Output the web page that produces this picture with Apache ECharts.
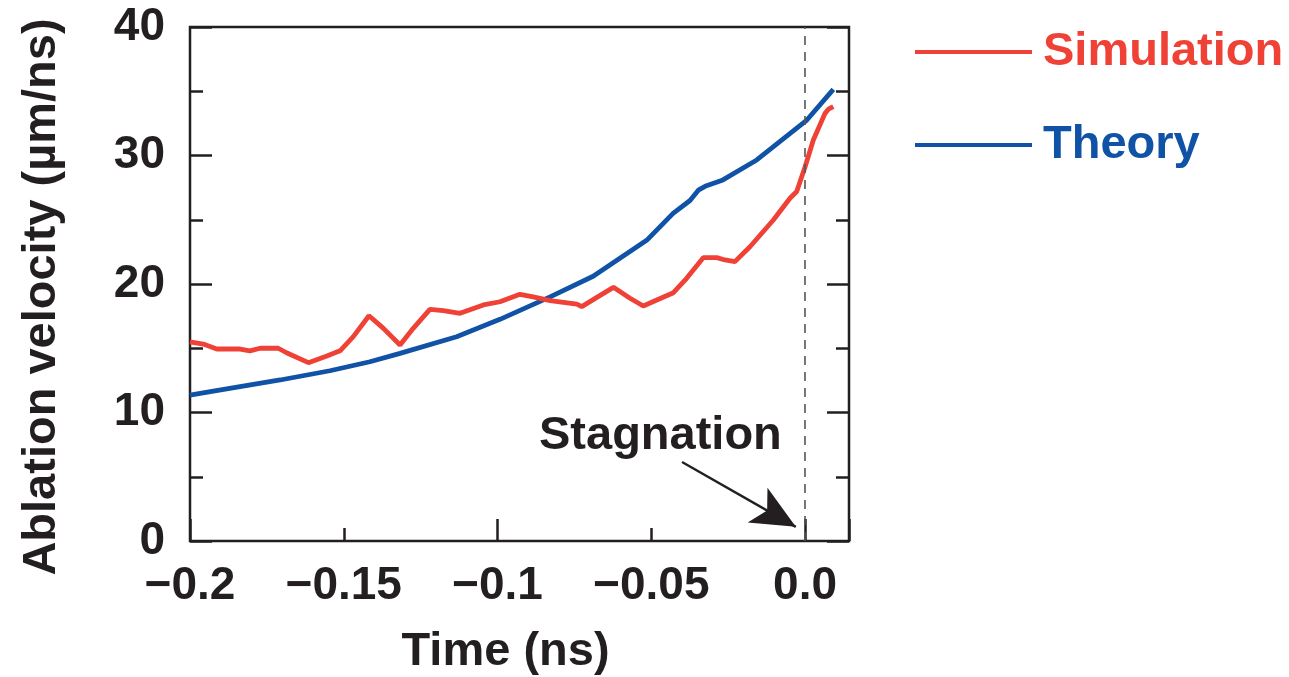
<!DOCTYPE html>
<html><head><meta charset="utf-8">
<script src="https://cdn.jsdelivr.net/npm/echarts@6/dist/echarts.min.js"></script>
<style>html,body{margin:0;padding:0;background:#fff}#c{width:1289px;height:677px}</style>
</head><body><div id="c"></div>
<script>
// ---- data ----
const simTime = [-0.2, -0.1957, -0.1913, -0.1837, -0.1805, -0.1772, -0.1713, -0.1686, -0.1615, -0.1555, -0.1512, -0.1469, -0.1418, -0.1371, -0.1317, -0.1274, -0.1220, -0.1176, -0.1122, -0.1046, -0.0992, -0.0927, -0.0884, -0.0829, -0.0742, -0.0726, -0.0677, -0.0623, -0.0569, -0.0526, -0.0482, -0.0428, -0.0385, -0.0331, -0.0287, -0.0260, -0.0228, -0.0179, -0.0103, -0.0049, -0.0027, 0.0000, 0.0027, 0.0065, 0.0076, 0.0092];
const simVel  = [15.5, 15.33, 14.94, 14.94, 14.8, 15.0, 15.0, 14.65, 13.88, 14.4, 14.8, 15.9, 17.53, 16.55, 15.25, 16.55, 18.03, 17.92, 17.72, 18.37, 18.62, 19.2, 19.0, 18.7, 18.44, 18.24, 18.96, 19.74, 18.89, 18.29, 18.75, 19.32, 20.44, 22.05, 22.05, 21.87, 21.74, 22.9, 24.98, 26.67, 27.2, 29.1, 31.2, 33.28, 33.6, 33.8];
const theoryTime = [-0.2, -0.1924, -0.1707, -0.1545, -0.1415, -0.1317, -0.1133, -0.0992, -0.0829, -0.0689, -0.0515, -0.0429, -0.0374, -0.0347, -0.0325, -0.0267, -0.0157, 0.0006, 0.0092];
const theoryVel  = [11.36, 11.67, 12.53, 13.25, 13.95, 14.6, 15.9, 17.25, 19.0, 20.6, 23.4, 25.5, 26.5, 27.3, 27.6, 28.1, 29.65, 32.76, 35.15];
const xTickLabels = {'-0.2': '\u22120.2', '-0.15': '\u22120.15', '-0.1': '\u22120.1', '-0.05': '\u22120.05', '0': '0.0'};
const seriesNames = ['Simulation', 'Theory'];
const stagnationTime = 0;
const arrowFrom = [-0.040, 6.15];
const arrowTo = [-0.0030, 1.1];

const FONT = '"Liberation Sans", Arial, Helvetica, sans-serif';
const INK = '#231f20';
const RED = '#ef4136';
const BLUE = '#1052a5';
const XMIN = -0.2, XMAX = 0.0143;

const chart = echarts.init(document.getElementById('c'), null, {renderer: 'canvas'});
const pairs = (xs, ys) => xs.map((x, i) => [x, ys[i]]);

chart.setOption({
  animation: false,
  backgroundColor: '#fff',
  grid: {left: 190, right: 440, top: 27, bottom: 136, outerBoundsMode: 'none', containLabel: false,
    show: true, borderColor: INK, borderWidth: 2.5, backgroundColor: 'transparent'},
  legend: {
    orient: 'vertical', left: 910, top: 22, itemWidth: 117, itemHeight: 4, icon: 'rect', itemGap: 43,
    textStyle: {fontSize: 47, fontWeight: 'bold', fontFamily: FONT, lineHeight: 50, padding: [0, 0, 0, 6]},
    data: [{name: seriesNames[0], textStyle: {color: RED}}, {name: seriesNames[1], textStyle: {color: BLUE}}]
  },
  xAxis: [{
    type: 'value', min: XMIN, max: XMAX, interval: 0.05,
    name: 'Time (ns)', nameLocation: 'middle', nameGap: 88,
    nameTextStyle: {fontSize: 47, fontWeight: 'bold', fontFamily: FONT, color: INK, padding: [0, 28, 0, 0]},
    axisLine: {show: false, onZero: false},
    axisTick: {show: true, inside: true, length: 13, lineStyle: {color: INK, width: 2.5}},
    splitLine: {show: false},
    axisLabel: {showMaxLabel: false, margin: 22, fontSize: 46, fontWeight: 'bold', fontFamily: FONT, color: INK,
      formatter: v => { const k = String(Math.round(v * 100) / 100); return xTickLabels[k] !== undefined ? xTickLabels[k] : ''; }}
  }, {
    type: 'value', min: XMIN, max: XMAX, interval: 0.1, position: 'bottom',
    axisLine: {show: false, onZero: false}, axisLabel: {show: false}, splitLine: {show: false},
    axisTick: {show: true, inside: true, length: 22, lineStyle: {color: INK, width: 2.5}}
  }],
  yAxis: [{
    type: 'value', min: 0, max: 40, interval: 10, position: 'left',
    name: 'Ablation velocity (\u00b5m/ns)', nameLocation: 'middle', nameGap: 124,
    nameTextStyle: {fontSize: 47, fontWeight: 'bold', fontFamily: FONT, color: INK, padding: [0, 26, 0, 0]},
    axisLine: {show: false, onZero: false},
    axisTick: {show: true, inside: true, length: 22, lineStyle: {color: INK, width: 2.5}},
    minorTick: {show: true, splitNumber: 2, length: 13, lineStyle: {color: INK, width: 2.5}},
    splitLine: {show: false},
    axisLabel: {margin: 25, fontSize: 46, fontWeight: 'bold', fontFamily: FONT, color: INK}
  }, {
    type: 'value', min: 0, max: 40, interval: 10, position: 'right',
    axisLine: {show: false, onZero: false}, axisLabel: {show: false}, splitLine: {show: false},
    axisTick: {show: true, inside: true, length: 22, lineStyle: {color: INK, width: 2.5}},
    minorTick: {show: true, splitNumber: 2, length: 13, lineStyle: {color: INK, width: 2.5}}
  }],
  series: [{
    name: seriesNames[0], type: 'line', xAxisIndex: 0, yAxisIndex: 0,
    data: pairs(simTime, simVel), showSymbol: false, symbol: 'none',
    lineStyle: {color: RED, width: 4.8}, itemStyle: {color: RED}, z: 3,
    markLine: {
      silent: true, symbol: ['none', 'arrow'], symbolSize: [30, 44], label: {show: false},
      lineStyle: {color: INK, width: 2.4, type: 'solid'},
      data: [[{coord: arrowFrom}, {coord: arrowTo}]]
    }
  }, {
    name: seriesNames[1], type: 'line', xAxisIndex: 0, yAxisIndex: 0,
    data: pairs(theoryTime, theoryVel), showSymbol: false, symbol: 'none',
    lineStyle: {color: BLUE, width: 4.8}, itemStyle: {color: BLUE}, z: 2,
    markLine: {
      silent: true, symbol: 'none', label: {show: false},
      lineStyle: {color: '#555', width: 1.6, type: [9, 7]},
      data: [{xAxis: stagnationTime}]
    }
  }],
  graphic: [{
    type: 'text', left: 539, top: 413,
    style: {text: 'Stagnation', fontSize: 47, fontWeight: 'bold', fontFamily: FONT, fill: INK}
  }]
});
</script></body></html>
